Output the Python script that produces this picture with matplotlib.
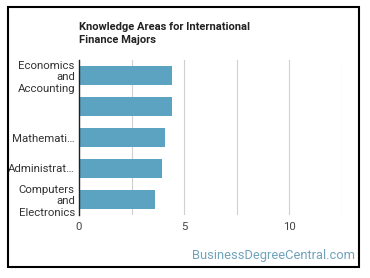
import matplotlib
matplotlib.use("Agg")
import matplotlib.pyplot as plt
from matplotlib.patches import Rectangle

categories = ["Economics\nand\nAccounting", "", "Mathemati…", "Administrat…", "Computers\nand\nElectronics"]
values = [4.43, 4.43, 4.1, 3.93, 3.6]
xticks = [0, 5, 10]
title = "Knowledge Areas for International\nFinance Majors"
watermark = "BusinessDegreeCentral.com"

plt.rcParams['font.family'] = ['Roboto', 'DejaVu Sans']

fig = plt.figure(figsize=(3.7, 2.78), dpi=100)
fig.patch.set_facecolor('white')
ax = fig.add_axes([79/370, 1-215/278, (341.5-79)/370, 155/278])

y = list(range(len(categories)))
ax.barh(y, values, height=0.62, color='#5ba3c1', zorder=2)
ax.set_ylim(4.5, -0.5)
ax.set_xlim(0, 12.5)
ax.set_yticks(y)
ax.set_yticklabels(categories, fontsize=8.2, color='#333333', linespacing=1.2)
ax.set_xticks([0, 2.5, 5, 7.5, 10, 12.5])
ax.set_xticklabels(['0', '', '5', '', '10', ''], fontsize=8.2, color='#444444')
ax.tick_params(axis='y', length=0, pad=3)
ax.tick_params(axis='x', length=0, pad=5)
ax.grid(axis='x', color='#d0d0d0', linewidth=0.8, zorder=0)
for s in ['top', 'right', 'bottom']:
    ax.spines[s].set_visible(False)
ax.spines['left'].set_color('#222222')
ax.spines['left'].set_linewidth(1.0)
ax.spines['left'].set_zorder(3)

fig.text(79/370, 1-22/278, title, fontsize=8.0, fontweight='bold', color='#222222',
         ha='left', va='top', linespacing=1.4)
fig.text(355/370, 1-256/278, watermark, fontsize=9.3, color='#6fa3bb', ha='right', va='center')

fig.add_artist(Rectangle((8/370, 1-267/278), (359-8)/370, (267-7)/278, transform=fig.transFigure,
                         fill=False, edgecolor='black', linewidth=1.5))

fig.savefig('out.png', dpi=100)
